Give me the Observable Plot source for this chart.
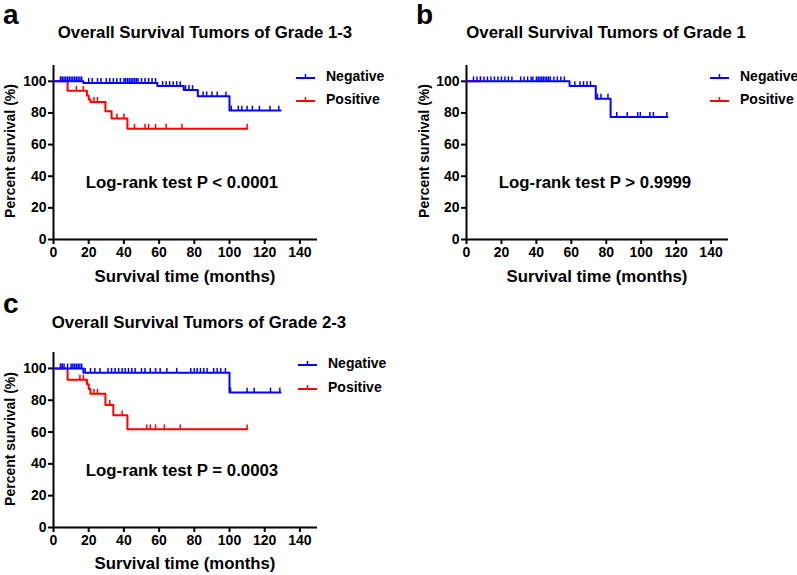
<!DOCTYPE html>
<html>
<head>
<meta charset="utf-8">
<script src="https://cdn.jsdelivr.net/npm/d3@7"></script>
<script src="https://cdn.jsdelivr.net/npm/@observablehq/plot@0.6"></script>
<style>
  body { margin: 0; background: #fff; }
  #root { position: relative; width: 797px; height: 575px; background: #fff; font-family: "Liberation Sans", Arial, sans-serif; font-weight: bold; color: #000; }
  .abs { position: absolute; white-space: nowrap; }
  .panel-letter { font-size: 28px; line-height: 1; }
  .title { font-size: 16.8px; transform: translate(-50%, -50%); }
  .ann { font-size: 16.8px; transform: translate(-50%, -50%); }
  .xlab { font-size: 16.8px; transform: translate(-50%, -50%); }
  .ylab { font-size: 14px; transform: translate(-50%, -50%) rotate(-90deg); }
  .leg { font-size: 14px; display: flex; align-items: center; transform: translateY(-50%); }
  .leg svg { margin-right: 11px; }
  .plot { position: absolute; }
</style>
</head>
<body>
<div id="root"></div>
<script>
// ---------- data ----------
const xTicks = [0, 20, 40, 60, 80, 100, 120, 140];
const yTicks = [0, 20, 40, 60, 80, 100];
const groupNames = ["Negative", "Positive"];
const groupColors = ["#0000ff", "#ff0000"];

// Panel a: Grade 1-3
const aNegTime = [0, 17, 59, 74, 82, 100, 129];
const aNegSurv = [100, 99, 97, 94.5, 90.5, 81.5, 81.5];
const aNegCensor = [4,5,6,7,8,9,10,11,12,13,14,15,16,20,22,25,27,30,32,34,36,38,40,41,42,43,44,45,46,47,48,50,52,54,56,58,62,64,66,68,70,72,75,77,79,85,87,90,93,98,101,105,107,110,113,117,123,128];
const aPosTime = [0, 8, 19, 20, 21, 29.5, 33, 42, 110];
const aPosSurv = [100, 94, 91, 88.5, 87, 81, 76.5, 70, 70];
const aPosCensor = [4,13,17,23,25,36,40,46,52,54,58,64,73,110];

// Panel b: Grade 1
const bNegTime = [0, 59, 74, 82.5, 115];
const bNegSurv = [100, 97, 89, 77.5, 77.5];
const bNegCensor = [4,6,8,10,12,14,16,18,20,22,24,26,31,33,35,37,38,40,41,42,43,44,45,46,47,48,50,52,54,56,62,65,67,69,71,75,77,81,86,92,98,99.5,105,107,114.7];
const bPosTime = [0, 8];
const bPosSurv = [100, 100];
const bPosCensor = [8];

// Panel c: Grade 2-3
const cNegTime = [0, 17, 100, 129];
const cNegSurv = [100, 97.2, 84.8, 84.8];
const cNegCensor = [4,5,6,8,10,11,12,13,14,15,16,18,21,23.5,26.4,31,33,35,37,39,40.7,42.6,44.5,46.4,50,52,55,58,60.6,64.4,70,78,80,81.6,83.5,85.4,87.3,91,93,95,97.7,100.6,110,114,123.3,128.6];
const cPosTime = [0, 8, 19, 20, 21, 29.5, 34, 42, 110];
const cPosSurv = [100, 92.9, 90, 87, 84, 77, 70.5, 61.7, 61.7];
const cPosCensor = [4,15,17,23,25,32,39,53,55,58,63,72,110];

const titles = ["Overall Survival Tumors of Grade 1-3", "Overall Survival Tumors of Grade 1", "Overall Survival Tumors of Grade 2-3"];
const pTexts = ["Log-rank test P < 0.0001", "Log-rank test P > 0.9999", "Log-rank test P = 0.0003"];
const letters = ["a", "b", "c"];
const xLabel = "Survival time (months)";
const yLabel = "Percent survival (%)";

// ---------- helpers ----------
function curve(times, surv) { return times.map((t, i) => ({t, s: surv[i]})); }
function censorPts(times, surv, cens) {
  return cens.map(c => {
    let s = surv[0];
    for (let i = 0; i < times.length; i++) if (times[i] <= c) s = surv[i];
    return {t: c, s};
  });
}

const root = document.getElementById("root");
function addDiv(cls, text, left, top) {
  const d = document.createElement("div");
  d.className = "abs " + cls;
  d.textContent = text;
  d.style.left = left + "px";
  d.style.top = top + "px";
  root.appendChild(d);
  return d;
}
function addLegend(left, top, name, color) {
  const d = document.createElement("div");
  d.className = "abs leg";
  d.style.left = left + "px";
  d.style.top = top + "px";
  d.innerHTML = `<svg width="19" height="10"><line x1="0" x2="19" y1="7" y2="7" stroke="${color}" stroke-width="2"/><line x1="9.5" x2="9.5" y1="7" y2="3" stroke="${color}" stroke-width="1.5"/></svg><span>${name}</span>`;
  root.appendChild(d);
}

function panel(cfg) {
  const neg = curve(cfg.negT, cfg.negS), pos = curve(cfg.posT, cfg.posS);
  const negC = censorPts(cfg.negT, cfg.negS, cfg.negC), posC = censorPts(cfg.posT, cfg.posS, cfg.posC);
  const chart = Plot.plot({
    width: cfg.width, height: cfg.height,
    marginLeft: cfg.ml, marginRight: cfg.mr, marginTop: cfg.mt, marginBottom: cfg.mb,
    x: {domain: [0, 150]},
    y: {domain: [0, 110]},
    style: {fontFamily: "'Liberation Sans', Arial, sans-serif", fontWeight: "bold", fontSize: "14px", color: "#000", background: "transparent", overflow: "visible"},
    marks: [
      Plot.axisX({ticks: xTicks, tickSize: 5, tickPadding: 3, label: null, strokeWidth: 2, fill: "#000", stroke: "#000"}),
      Plot.axisY({ticks: yTicks, tickSize: 5, tickPadding: 2, label: null, strokeWidth: 2, fill: "#000", stroke: "#000"}),
      Plot.ruleX([0], {stroke: "#000", strokeWidth: 2}),
      Plot.ruleY([0], {stroke: "#000", strokeWidth: 2}),
      Plot.line(pos, {x: "t", y: "s", curve: "step-after", stroke: groupColors[1], strokeWidth: 2}),
      Plot.ruleX(posC, {x: "t", y1: "s", y2: d => d.s + 2.8, stroke: groupColors[1], strokeWidth: 1.5}),
      Plot.line(neg, {x: "t", y: "s", curve: "step-after", stroke: groupColors[0], strokeWidth: 2}),
      Plot.ruleX(negC, {x: "t", y1: "s", y2: d => d.s + 2.8, stroke: groupColors[0], strokeWidth: 1.5})
    ]
  });
  chart.classList.add("plot");
  chart.style.left = cfg.left + "px";
  chart.style.top = cfg.top + "px";
  chart.style.position = "absolute";
  root.appendChild(chart);
}

// ---------- panels ----------
panel({left: 0, top: 55, width: 400, height: 225, ml: 53, mr: 83, mt: 10, mb: 41,
  negT: aNegTime, negS: aNegSurv, negC: aNegCensor, posT: aPosTime, posS: aPosSurv, posC: aPosCensor});
panel({left: 400, top: 55, width: 397, height: 225, ml: 66, mr: 69, mt: 10, mb: 41,
  negT: bNegTime, negS: bNegSurv, negC: bNegCensor, posT: bPosTime, posS: bPosSurv, posC: bPosCensor});
panel({left: 0, top: 342, width: 400, height: 225, ml: 53, mr: 83, mt: 10, mb: 40,
  negT: cNegTime, negS: cNegSurv, negC: cNegCensor, posT: cPosTime, posS: cPosSurv, posC: cPosCensor});

// letters
addDiv("panel-letter", letters[0], 3, 1);
addDiv("panel-letter", letters[1], 416, 1);
addDiv("panel-letter", letters[2], 3, 290);
// titles
addDiv("title", titles[0], 205, 33);
addDiv("title", titles[1], 606, 33);
addDiv("title", titles[2], 199, 323);
// annotations
addDiv("ann", pTexts[0], 182, 183);
addDiv("ann", pTexts[1], 595, 183);
addDiv("ann", pTexts[2], 182, 471);
// axis labels
addDiv("xlab", xLabel, 185, 277);
addDiv("xlab", xLabel, 597, 277);
addDiv("xlab", xLabel, 185, 564);
addDiv("ylab", yLabel, 10, 151);
addDiv("ylab", yLabel, 424, 151);
addDiv("ylab", yLabel, 10, 439);
// legends
addLegend(296, 76, groupNames[0], groupColors[0]);
addLegend(296, 99, groupNames[1], groupColors[1]);
addLegend(710, 76, groupNames[0], groupColors[0]);
addLegend(710, 99, groupNames[1], groupColors[1]);
addLegend(298, 363, groupNames[0], groupColors[0]);
addLegend(298, 387, groupNames[1], groupColors[1]);
</script>
</body>
</html>
